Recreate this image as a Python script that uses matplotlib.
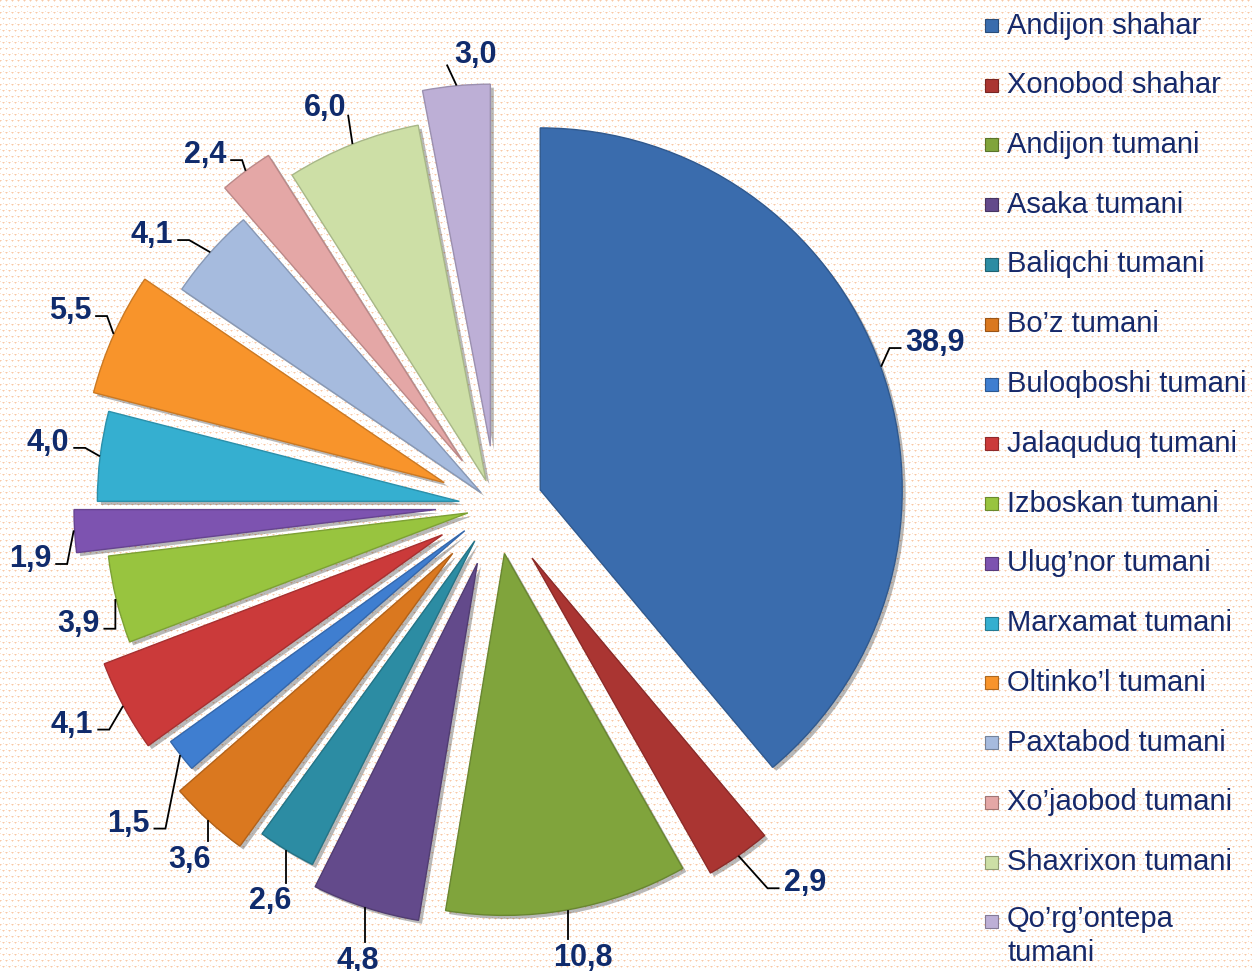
import numpy as np
import matplotlib
matplotlib.use("Agg")
import matplotlib.pyplot as plt
import matplotlib.patheffects as pe
from matplotlib.patches import Rectangle
from matplotlib.colors import to_rgb

# ---------------- data ----------------
districts = [
    "Andijon shahar", "Xonobod shahar", "Andijon tumani", "Asaka tumani",
    "Baliqchi tumani", "Bo\u2019z tumani", "Buloqboshi tumani", "Jalaquduq tumani",
    "Izboskan tumani", "Ulug\u2019nor tumani", "Marxamat tumani", "Oltinko\u2019l tumani",
    "Paxtabod tumani", "Xo\u2019jaobod tumani", "Shaxrixon tumani", "Qo\u2019rg\u2019ontepa\ntumani",
]
shares = [38.9, 2.9, 10.8, 4.8, 2.6, 3.6, 1.5, 4.1, 3.9, 1.9, 4.0, 5.5, 4.1, 2.4, 6.0, 3.0]

# ---------------- style ----------------
colors = ["#3A6CAD", "#AA3532", "#80A43C", "#634A8B", "#2C8CA3", "#DA781F",
          "#3F7ED0", "#CB3A3A", "#98C43F", "#7D53B0", "#35AFD0", "#F8942B",
          "#A6BBDE", "#E4A7A6", "#CDDFA6", "#BDAFD6"]
explode = [0.13, 0.175, 0.133, 0.166, 0.113, 0.177, 0.11, 0.168,
           0.08, 0.166, 0.102, 0.157, 0.055, 0.155, 0.075, 0.166]
# label placement (distance in radii from the slice apex, angular nudge in degrees)
lab_dist = [1.167, 1.166, 1.13, 1.139, 1.137, 1.109, 1.227, 1.146,
            1.117, 1.129, 1.149, 1.141, 1.16, 1.111, 1.129, 1.09]
lab_shift = [0.8, 5.5, 1.0, 1.2, 1.5, 1.6, 2.4, -1.5,
             1.6, 3.1, -1.3, -0.7, 3.2, 3.1, 1.6, -3.2]
NAVY = "#102B6C"
LEG_TXT = "#16296A"
FONT = "Liberation Sans"

W, H = 1252, 971
R_PX = 362.0
CX, CY = 496.0, 506.0

fig = plt.figure(figsize=(W / 100, H / 100), dpi=100)

# dotted background texture
yy, xx = np.mgrid[0:H, 0:W]
bg = np.ones((H, W, 3))
per = 6
shift = (yy // per) % 2 * (per // 2)
lx = (xx + shift) % per
ly = yy % per
core = (lx == 0) & (ly == 0)
arm = (((lx == 1) | (lx == per - 1)) & (ly == 0)) | (((ly == 1) | (ly == per - 1)) & (lx == 0))
bg[core] = np.array([247, 200, 168]) / 255
bg[arm] = np.array([252, 226, 206]) / 255
fig.figimage(bg, xo=0, yo=0, origin="upper", zorder=-10)

ax = fig.add_axes([0, 0, 1, 1])
ax.set_zorder(2)
ax.patch.set_alpha(0)


def darker(c, f=0.75):
    r, g, b = to_rgb(c)
    return (r * f, g * f, b * f)


def to_px(x, y):
    return CX + x * R_PX, CY - y * R_PX


def to_data(X, Y):
    return (X - CX) / R_PX, (CY - Y) / R_PX


wedges, _ = ax.pie(shares, explode=explode, colors=colors, startangle=90,
                   counterclock=False, radius=1.0,
                   wedgeprops=dict(linewidth=1.0))
for w, c in zip(wedges, colors):
    w.set_edgecolor(darker(c, 0.82))
    w.set_path_effects([pe.SimplePatchShadow(offset=(2.5, -2.5), shadow_rgbFace="k", alpha=0.28),
                        pe.Normal()])

ax.set_xlim(-CX / R_PX, (W - CX) / R_PX)
ax.set_ylim(-(H - CY) / R_PX, CY / R_PX)
ax.axis("off")

# data labels with leader lines
EM = 30.5
for w, v, ld, ls in zip(wedges, shares, lab_dist, lab_shift):
    mid = (w.theta1 + w.theta2) / 2
    th = np.deg2rad(mid)
    thl = np.deg2rad(mid + ls)
    cx0, cy0 = w.center
    tx, ty = cx0 + ld * np.cos(thl), cy0 + ld * np.sin(thl)
    LX, LY = to_px(tx, ty)
    txt = f"{v:.1f}".replace(".", ",")
    ax.text(*to_data(LX, LY + 3), txt, ha="center", va="center", fontsize=22,
            fontweight="bold", color=NAVY, family=FONT, zorder=5)
    # leader line in pixel space
    AX_, AY_ = to_px(cx0 + 1.003 * np.cos(th), cy0 + 1.003 * np.sin(th))
    hw = ((len(txt) - 1) * 0.556 + 0.278) * EM / 2
    hh = 12.5
    left, right, top, bot = LX - hw, LX + hw, LY - hh, LY + hh
    if left - 2 <= AX_ <= right + 2:
        if AY_ < LY:
            xs, ys = [AX_, AX_], [AY_, top - 3]
        else:
            xs, ys = [AX_, AX_ - 9], [AY_, bot + 1]
    else:
        s = 1 if AX_ > right else -1   # +1: line comes from the right of the label
        edge = right if s == 1 else left
        if AY_ > LY and abs(AY_ - LY) > 2.5 * abs(AX_ - edge):
            xs, ys = [AX_, edge + s * 2], [AY_, bot - 2]
        else:
            ex = edge + s * 5
            ey = LY + 8
            xs, ys = [AX_, ex + s * 11, ex], [AY_, ey, ey]
    pts = [to_data(a, b) for a, b in zip(xs, ys)]
    ax.plot([p[0] for p in pts], [p[1] for p in pts], color="black", lw=1.3,
            zorder=4, solid_joinstyle="miter")

# legend (manual, right side)
row0, pitch = 25.5, 59.75
for i, (name, c) in enumerate(zip(districts, colors)):
    yc = row0 + pitch * i
    sq = 13
    fig.add_artist(Rectangle((985 / W, 1 - (yc + sq / 2) / H), sq / W, sq / H,
                             transform=fig.transFigure, facecolor=c,
                             edgecolor=darker(c, 0.7), linewidth=0.8))
    if "\n" in name:
        fig.text(1007 / W, 1 - (yc - 17) / H, name, ha="left", va="top", fontsize=21,
                 color=LEG_TXT, family=FONT, linespacing=1.3)
    else:
        fig.text(1007 / W, 1 - yc / H, name, ha="left", va="center", fontsize=21,
                 color=LEG_TXT, family=FONT)

fig.savefig("out.png", dpi=100)
